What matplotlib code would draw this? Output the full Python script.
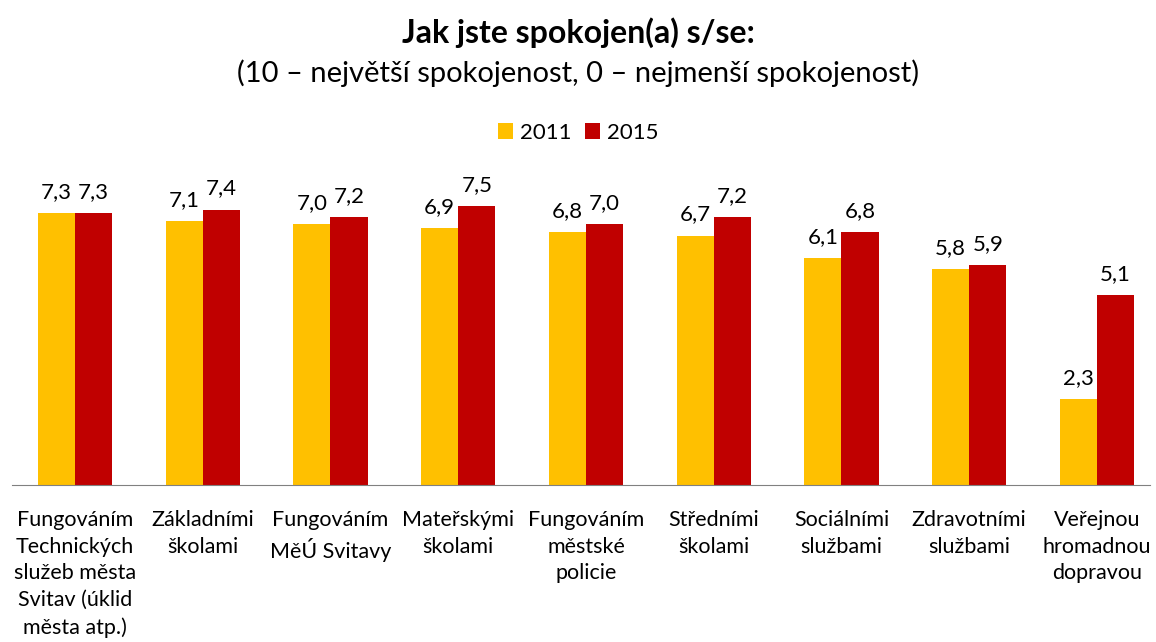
import numpy as np
import matplotlib.pyplot as plt

plt.rcParams['font.family'] = ['Lato', 'DejaVu Sans']

# data
categories = [
    "Fungováním\nTechnických\nslužeb města\nSvitav (úklid\nměsta atp.)",
    "Základními\nškolami",
    "Fungováním\nMěÚ Svitavy",
    "Mateřskými\nškolami",
    "Fungováním\nměstské\npolicie",
    "Středními\nškolami",
    "Sociálními\nslužbami",
    "Zdravotními\nslužbami",
    "Veřejnou\nhromadnou\ndopravou",
]
values_2011 = [7.3, 7.1, 7.0, 6.9, 6.8, 6.7, 6.1, 5.8, 2.3]
values_2015 = [7.3, 7.4, 7.2, 7.5, 7.0, 7.2, 6.8, 5.9, 5.1]
series_names = ["2011", "2015"]
colors = ["#FFC000", "#C00000"]

fig = plt.figure(figsize=(11.56, 6.42), dpi=100)
ax = fig.add_axes([12 / 1156, 1 - 485 / 642, (1150 - 12) / 1156, 335 / 642])

x = np.arange(len(categories))
w = 0.29
b1 = ax.bar(x - w / 2, values_2011, w, color=colors[0], label=series_names[0])
b2 = ax.bar(x + w / 2, values_2015, w, color=colors[1], label=series_names[1])

for bars in (b1, b2):
    for r in bars:
        v = r.get_height()
        ax.annotate(f"{v:.1f}".replace(".", ","),
                    (r.get_x() + r.get_width() / 2, v),
                    xytext=(0, 8), textcoords="offset points",
                    ha="center", va="bottom", fontsize=16)

ax.set_xlim(-0.493, 8.415)
ax.set_ylim(0, 9)
ax.set_xticks(x)
ax.set_xticklabels(categories, fontsize=15.5, linespacing=1.42, va="top")
ax.tick_params(axis="x", length=0, pad=18)
ax.set_yticks([])
for s in ["top", "right", "left"]:
    ax.spines[s].set_visible(False)
ax.spines["bottom"].set_color("#808080")

fig.text(0.5, 1 - 33 / 642, "Jak jste spokojen(a) s/se:", ha="center", va="center",
         fontsize=23, fontweight="bold")
fig.text(0.5, 1 - 73 / 642, "(10 – největší spokojenost, 0 – nejmenší spokojenost)",
         ha="center", va="center", fontsize=21)

fig.legend(loc="center", bbox_to_anchor=(0.5, 1 - 133 / 642), ncol=2, frameon=False,
           fontsize=16, handlelength=0.7, handleheight=0.7, columnspacing=0.6,
           handletextpad=0.3)

fig.savefig("out.png")
